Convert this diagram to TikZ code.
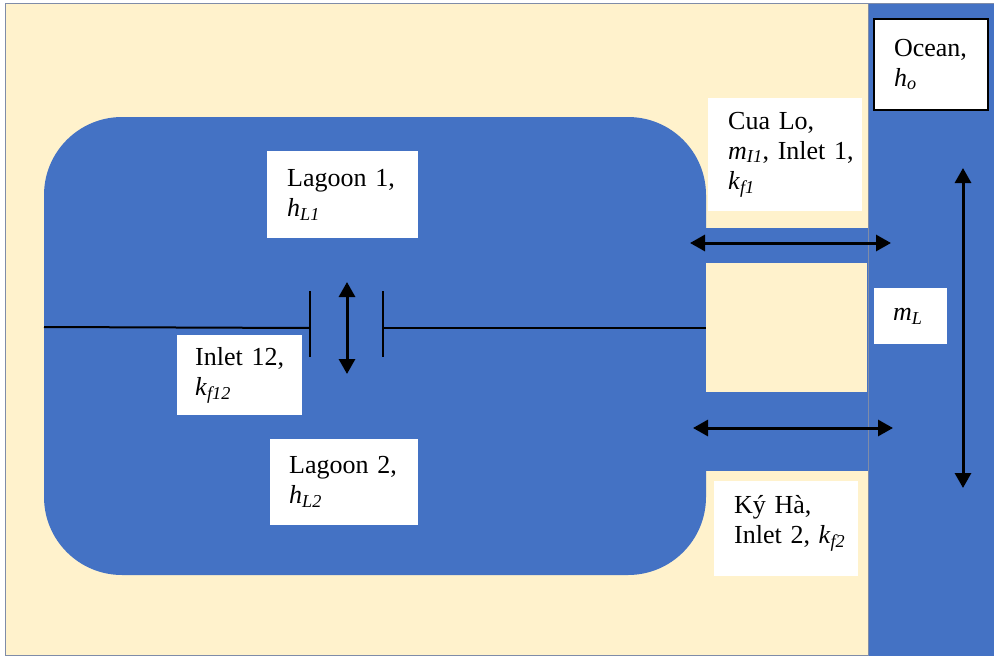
\documentclass[tikz,border=0pt]{standalone}
\usepackage{fontspec}
\setmainfont{Liberation Serif}
\usetikzlibrary{arrows.meta}
\definecolor{lagblue}{HTML}{4472C4}
\definecolor{sand}{HTML}{FFF2CC}
\definecolor{framec}{HTML}{7F8CA8}
\newcommand\isub[2]{\textit{#1}\textsubscript{\textit{#2}}}
\begin{document}
\begin{tikzpicture}[x=1pt,y=-1pt,
  labelbox/.style={fill=white, draw=none, rectangle, anchor=north west, align=left,
    inner ysep=0pt, font=\fontsize{26}{30}\selectfont},
  flowarrow/.style={line width=3pt, {Triangle[length=15pt,width=16pt]}-{Triangle[length=15pt,width=16pt]}},
  wall/.style={line width=2pt, black}]
\useasboundingbox (0,0) rectangle (994,656);
% land and ocean
\draw[framec, line width=1pt, fill=sand] (5,3) rectangle (868,655);
\draw[framec, line width=1pt, fill=lagblue] (868,3) rectangle (996,658);
% lagoon and channels
\fill[lagblue, rounded corners=78pt] (44,117) rectangle (706,575);
\fill[lagblue] (700,228) rectangle (868,471);
\fill[sand] (706,263) rectangle (867,392);
% divider with inlet 12
\coordinate (dl) at (44,327);
\coordinate (dlb) at (310,328);
\coordinate (dlt) at (310,291);
\coordinate (dlbb) at (310,357);
\coordinate (drb) at (383,328);
\coordinate (drt) at (383,291);
\coordinate (drbb) at (383,357);
\coordinate (dr) at (706,328);
\draw[wall] (dl) -- (dlb);
\draw[wall] (dlt) -- (dlbb);
\draw[wall] (drt) -- (drbb);
\draw[wall] (drb) -- (dr);
% arrows
\coordinate (a12t) at (347,282);
\coordinate (a12b) at (347,374);
\coordinate (a1l) at (690,243);
\coordinate (a1r) at (891,243);
\coordinate (a2l) at (693,428);
\coordinate (a2r) at (893,428);
\coordinate (aot) at (963,168);
\coordinate (aob) at (963,488);
\draw[flowarrow] (a12t) -- (a12b);
\draw[flowarrow] (a1l) -- (a1r);
\draw[flowarrow] (a2l) -- (a2r);
\draw[flowarrow] (aot) -- (aob);
% labels
\node[labelbox, inner xsep=20pt, text width=111pt, minimum height=87pt] (lag1) at (267,151)
  {\mbox{Lagoon 1,}\\\isub{h}{L1}};
\node[labelbox, inner xsep=19pt, text width=110pt, minimum height=86pt] (lag2) at (270,439)
  {\mbox{Lagoon 2,}\\\isub{h}{L2}};
\node[labelbox, inner xsep=18pt, text width=89pt, minimum height=80pt] (in12) at (177,335)
  {\mbox{Inlet 12,}\\\isub{k}{f12}};
\node[labelbox, inner xsep=20pt, text width=114pt, minimum height=113pt] (cualo) at (708,98)
  {\mbox{Cua Lo,}\\\mbox{\isub{m}{I1}, Inlet 1,}\\\isub{k}{f1}};
\node[labelbox, inner xsep=20pt, text width=104pt, minimum height=95pt] (kyha) at (714,481)
  {\mbox{Ký Hà,}\\\mbox{Inlet 2, \isub{k}{f2}}\vspace{10pt}};
\node[labelbox, draw=black, line width=2pt, inner xsep=20pt, text width=74pt, minimum height=91pt] (ocean) at (873,18)
  {\mbox{Ocean,}\\\isub{h}{o}};
\node[labelbox, align=center, inner xsep=0pt, minimum width=73pt, minimum height=56pt] (ml) at (874,288)
  {\isub{m}{L}\hspace{6pt}};
\end{tikzpicture}
\end{document}
